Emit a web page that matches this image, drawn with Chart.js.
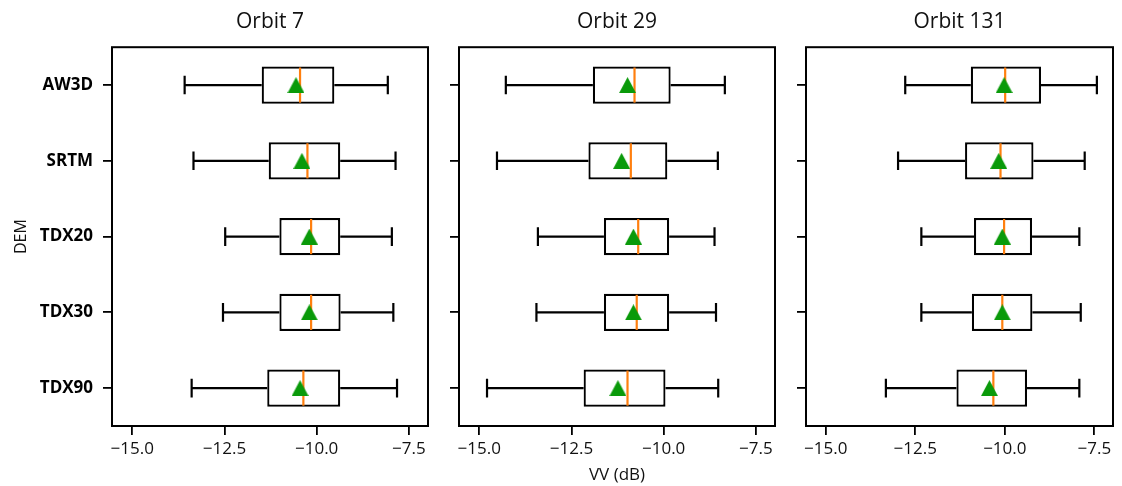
<!DOCTYPE html>
<html>
<head>
<meta charset="utf-8">
<script src="https://cdn.jsdelivr.net/npm/chart.js@4.4.0/dist/chart.umd.min.js"></script>
<style>
  body { margin: 0; background: #fff; }
  #wrap { position: relative; width: 1122px; height: 486px; }
  .panel { position: absolute; top: 0; height: 486px; }
</style>
</head>
<body>
<div id="wrap">
  <div class="panel" style="left:0;width:440px"><canvas id="orbit7"></canvas></div>
  <div class="panel" style="left:440px;width:350px"><canvas id="orbit29"></canvas></div>
  <div class="panel" style="left:790px;width:332px"><canvas id="orbit131"></canvas></div>
</div>
<script>
const dems = ["AW3D", "SRTM", "TDX20", "TDX30", "TDX90"];
const xTicks = [-15, -12.5, -10, -7.5];
const xMin = -15.55;
const xMax = -6.98;

// Orbit 7 : whisker low, Q1, median, Q3, whisker high, mean
const o7Min  = [-13.58, -13.34, -12.48, -12.54, -13.39];
const o7Q1   = [-11.49, -11.30, -11.01, -11.01, -11.34];
const o7Med  = [-10.45, -10.25, -10.15, -10.15, -10.36];
const o7Q3   = [-9.52, -9.36, -9.36, -9.35, -9.36];
const o7Max  = [-8.07, -7.86, -7.96, -7.92, -7.82];
const o7Mean = [-10.56, -10.40, -10.20, -10.20, -10.45];

// Orbit 29
const o29Min  = [-14.28, -14.52, -13.41, -13.45, -14.79];
const o29Q1   = [-11.92, -12.04, -11.62, -11.62, -12.17];
const o29Med  = [-10.79, -10.89, -10.69, -10.73, -10.98];
const o29Q3   = [-9.81, -9.90, -9.85, -9.85, -9.95];
const o29Max  = [-8.34, -8.53, -8.62, -8.58, -8.52];
const o29Mean = [-10.98, -11.14, -10.82, -10.82, -11.24];

// Orbit 131
const o131Min  = [-12.78, -12.98, -12.33, -12.33, -13.32];
const o131Q1   = [-10.95, -11.11, -10.86, -10.92, -11.35];
const o131Med  = [-9.99, -10.12, -10.02, -10.07, -10.32];
const o131Q3   = [-8.99, -9.20, -9.24, -9.23, -9.38];
const o131Max  = [-7.43, -7.77, -7.92, -7.88, -7.92];
const o131Mean = [-10.02, -10.17, -10.07, -10.07, -10.43];

// green triangle marker (matplotlib '^', centred on its box)
const tri = document.createElement("canvas");
tri.width = 17; tri.height = 16;
const tctx = tri.getContext("2d");
tctx.fillStyle = "#0a9a0a";
tctx.beginPath();
tctx.moveTo(8.5, 0); tctx.lineTo(17, 16); tctx.lineTo(0, 16);
tctx.closePath();
tctx.fill();

function boxParts(st) {
  return {
    id: "boxParts",
    beforeDatasetsDraw(chart) {
      const { ctx, scales: { x, y } } = chart;
      const bars = chart.getDatasetMeta(0).data;
      ctx.save();
      ctx.strokeStyle = "#000";
      ctx.lineWidth = 2.2;
      bars.forEach((bar, i) => {
        const cy = y.getPixelForValue(i);
        const cap = bar.height / 4;
        const lo = x.getPixelForValue(st.min[i]);
        const hi = x.getPixelForValue(st.max[i]);
        ctx.beginPath();
        ctx.moveTo(lo, cy); ctx.lineTo(x.getPixelForValue(st.q1[i]), cy);
        ctx.moveTo(x.getPixelForValue(st.q3[i]), cy); ctx.lineTo(hi, cy);
        ctx.moveTo(lo, cy - cap); ctx.lineTo(lo, cy + cap);
        ctx.moveTo(hi, cy - cap); ctx.lineTo(hi, cy + cap);
        ctx.stroke();
      });
      ctx.restore();
    },
    afterDatasetDraw(chart, args) {
      if (args.index !== 0) return;
      const { ctx, scales: { x } } = chart;
      ctx.save();
      ctx.strokeStyle = "#ff7f0e";
      ctx.lineWidth = 2.2;
      chart.getDatasetMeta(0).data.forEach((bar, i) => {
        const mx = x.getPixelForValue(st.med[i]);
        ctx.beginPath();
        ctx.moveTo(mx, bar.y - bar.height / 2 + 1);
        ctx.lineTo(mx, bar.y + bar.height / 2 - 1);
        ctx.stroke();
      });
      ctx.restore();
    },
    afterDraw(chart) {
      const { ctx, chartArea: a } = chart;
      ctx.save();
      ctx.strokeStyle = "#000";
      ctx.lineWidth = 2;
      ctx.strokeRect(a.left, a.top, a.right - a.left, a.bottom - a.top);
      ctx.restore();
    }
  };
}

function makePanel(id, title, st, yWidth, padRight, showNames, showXTitle) {
  new Chart(document.getElementById(id), {
    type: "bar",
    data: {
      labels: dems,
      datasets: [
        {
          data: dems.map((d, i) => [st.q1[i], st.q3[i]]),
          backgroundColor: "#fff",
          borderColor: "#000",
          borderWidth: 2.2,
          borderSkipped: false,
          barPercentage: 0.49,
          categoryPercentage: 1,
          order: 1
        },
        {
          type: "line",
          indexAxis: "y",
          data: st.mean,
          showLine: false,
          pointStyle: tri,
          pointRadius: 8,
          order: 0
        }
      ]
    },
    options: {
      indexAxis: "y",
      responsive: true,
      maintainAspectRatio: false,
      animation: false,
      layout: { padding: { left: 0, right: padRight, top: 0, bottom: 0 } },
      plugins: {
        legend: { display: false },
        tooltip: { enabled: false },
        title: {
          display: true,
          fullSize: false,
          text: title,
          color: "#111",
          font: { family: "Open Sans", size: 21, weight: "normal" },
          padding: { top: 9, bottom: 13 }
        }
      },
      scales: {
        x: {
          type: "linear",
          min: xMin,
          max: xMax,
          afterBuildTicks: (s) => { s.ticks = xTicks.map(v => ({ value: v })); },
          afterFit: (s) => { s.height = 60; },
          border: { display: false },
          grid: { drawOnChartArea: false, drawTicks: true, tickLength: 9, color: "#000", lineWidth: 1.8 },
          ticks: {
            autoSkip: false,
            includeBounds: false,
            padding: 4,
            color: "#111",
            font: { family: "Open Sans", size: 17 },
            callback: (v) => Number(v).toFixed(1).replace("-", "\u2212")
          },
          title: {
            display: showXTitle,
            text: "VV (dB)",
            color: "#111",
            font: { family: "Open Sans", size: 17 },
            padding: { bottom: 1 }
          }
        },
        y: {
          type: "category",
          offset: true,
          afterFit: (s) => { s.width = yWidth; },
          border: { display: false },
          grid: { offset: false, drawOnChartArea: false, drawTicks: true, tickLength: 9, color: "#000", lineWidth: 1.8 },
          ticks: {
            padding: 10,
            color: "#000",
            font: { family: "Open Sans", size: 17, weight: "bold" },
            callback: function (v) { return showNames ? this.getLabelForValue(v) : ""; }
          },
          title: {
            display: showNames,
            text: "DEM",
            color: "#111",
            font: { family: "Open Sans", size: 16 },
            padding: { top: 12 }
          }
        }
      }
    },
    plugins: [boxParts(st)]
  });
}

makePanel("orbit7", "Orbit 7",
  { min: o7Min, q1: o7Q1, med: o7Med, q3: o7Q3, max: o7Max, mean: o7Mean },
  112, 12, true, false);
makePanel("orbit29", "Orbit 29",
  { min: o29Min, q1: o29Q1, med: o29Med, q3: o29Q3, max: o29Max, mean: o29Mean },
  19, 15, false, true);
makePanel("orbit131", "Orbit 131",
  { min: o131Min, q1: o131Q1, med: o131Med, q3: o131Q3, max: o131Max, mean: o131Mean },
  16, 1, false, false);
</script>
</body>
</html>
